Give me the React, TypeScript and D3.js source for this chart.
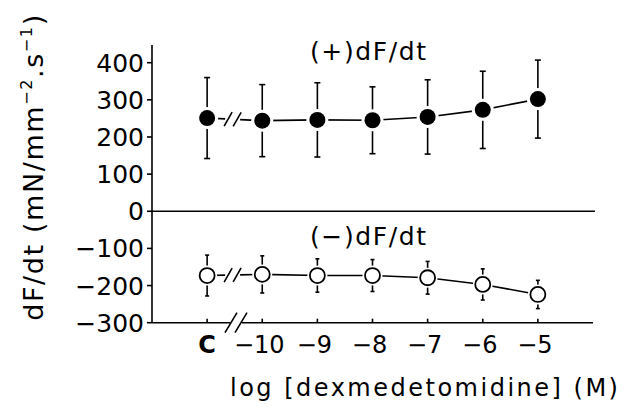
import React from 'react';
import * as d3 from 'd3';

// x positions: control "C" is put one step left of -10
const xPos = [-11, -10, -9, -8, -7, -6, -5];
const xLabels = ['C', '\u221210', '\u22129', '\u22128', '\u22127', '\u22126', '\u22125'];

const plusMean = [251, 244, 246, 245, 254, 273, 302];
const plusSd = [109, 97, 100, 90, 100, 104, 105];
const minusMean = [-173, -170, -173, -173, -179, -197, -224];
const minusSd = [55, 50, 45, 43, 44, 42, 38];

const yTicks = [400, 300, 200, 100, 0, -100, -200, -300];

const width = 632;
const height = 407;
const font = '"DejaVu Sans", sans-serif';

const x = d3.scaleLinear().domain([-12, -4]).range([152, 593]);
const y = d3.scaleLinear().domain([-300, 400]).range([322.7, 62.7]);

const Series = ({ mean, sd, filled, cap }: { mean: number[]; sd: number[]; filled: boolean; cap: number }) => {
  const pts = xPos.map((p, i) => ({ x: x(p), y: y(mean[i]) }));
  const line = d3.line<{ x: number; y: number }>().x((d) => d.x).y((d) => d.y);
  const r = 8;
  // broken segment between C and -10
  const a = pts[0];
  const b = pts[1];
  const t = (xx: number) => a.y + ((b.y - a.y) * (xx - a.x)) / (b.x - a.x);
  const s1 = a.x + 21;
  const s2 = a.x + 30;
  return (
    <g>
      <line x1={a.x} y1={a.y} x2={s1 - 3} y2={t(s1 - 3)} stroke="#000" strokeWidth={1.6} />
      <line x1={s2 + 3} y1={t(s2 + 3)} x2={b.x} y2={b.y} stroke="#000" strokeWidth={1.6} />
      {[s1, s2].map((sx, k) => (
        <line key={k} x1={sx - 4} y1={t(sx) + 7} x2={sx + 4} y2={t(sx) - 7} stroke="#000" strokeWidth={1.6} />
      ))}
      <path d={line(pts.slice(1)) || ''} fill="none" stroke="#000" strokeWidth={1.6} />
      {pts.map((p, i) => {
        const top = y(mean[i] + sd[i]);
        const bot = y(mean[i] - sd[i]);
        return (
          <g key={i}>
            <line x1={p.x} y1={top} x2={p.x} y2={bot} stroke="#000" strokeWidth={1.6} />
            <line x1={p.x - cap} y1={top} x2={p.x + cap} y2={top} stroke="#000" strokeWidth={1.6} />
            <line x1={p.x - cap} y1={bot} x2={p.x + cap} y2={bot} stroke="#000" strokeWidth={1.6} />
            <circle cx={p.x} cy={p.y} r={filled ? r + 3 : r + 2} fill="#fff" />
            <circle cx={p.x} cy={p.y} r={filled ? r : r - 0.5} fill={filled ? '#000' : '#fff'} stroke="#000" strokeWidth={filled ? 0 : 1.8} />
          </g>
        );
      })}
    </g>
  );
};

export default function App() {
  const x0 = x.range()[0];
  const x1 = x.range()[1];
  const yBottom = y(-300);
  const breakX = 236;
  return (
    <svg width={width} height={height} viewBox={`0 0 ${width} ${height}`} style={{ position: 'absolute', left: 0, top: 0, background: '#fff' }}>
      <rect width={width} height={height} fill="#fff" />
      {/* y axis */}
      <line x1={x0} y1={45} x2={x0} y2={yBottom} stroke="#000" strokeWidth={1.6} />
      {yTicks.map((v) => (
        <g key={v}>
          <line x1={x0 - 5} y1={y(v)} x2={x0} y2={y(v)} stroke="#000" strokeWidth={1.6} />
          <text x={x0 - 8} y={y(v)} dy="0.36em" textAnchor="end" fontFamily={font} fontSize={25}>
            {v < 0 ? `\u2212${-v}` : v}
          </text>
        </g>
      ))}
      {/* zero line */}
      <line x1={x0} y1={y(0)} x2={595} y2={y(0)} stroke="#000" strokeWidth={1.6} />
      {/* x axis with break */}
      <line x1={x0} y1={yBottom} x2={breakX - 6} y2={yBottom} stroke="#000" strokeWidth={1.6} />
      <line x1={breakX + 6} y1={yBottom} x2={x1} y2={yBottom} stroke="#000" strokeWidth={1.6} />
      {[breakX - 5, breakX + 5].map((bx, k) => (
        <line key={k} x1={bx - 6} y1={yBottom + 10} x2={bx + 6} y2={yBottom - 10} stroke="#000" strokeWidth={1.6} />
      ))}
      {xPos.map((p, i) => (
        <g key={p}>
          <line x1={x(p)} y1={yBottom} x2={x(p)} y2={yBottom - 4} stroke="#000" strokeWidth={1.6} />
          <text
            x={x(p) - (i === 0 ? 0 : 3)}
            y={353}
            textAnchor="middle"
            fontFamily={font}
            fontSize={24}
            fontWeight={i === 0 ? 'bold' : 'normal'}
          >
            {xLabels[i]}
          </text>
        </g>
      ))}
      <Series mean={plusMean} sd={plusSd} filled={true} cap={3} />
      <Series mean={minusMean} sd={minusSd} filled={false} cap={2} />
      <text x={310} y={60} fontFamily={font} fontSize={25} letterSpacing={1.6}>(+)dF/dt</text>
      <text x={310} y={245} fontFamily={font} fontSize={25} letterSpacing={1.6}>({'\u2212'})dF/dt</text>
      <text x={230} y={396} fontFamily={font} fontSize={24} letterSpacing={2.5}>log [dexmedetomidine] (M)</text>
      <text
        transform={`translate(43,167) rotate(-90)`}
        textAnchor="middle"
        fontFamily={font}
        fontSize={27}
        letterSpacing={1.6}
      >
        dF/dt (mN/mm
        <tspan dy={-11} fontSize={16}>{'\u2212'}2</tspan>
        <tspan dy={11}>.s</tspan>
        <tspan dy={-11} fontSize={16}>{'\u2212'}1</tspan>
        <tspan dy={11}>)</tspan>
      </text>
    </svg>
  );
}
